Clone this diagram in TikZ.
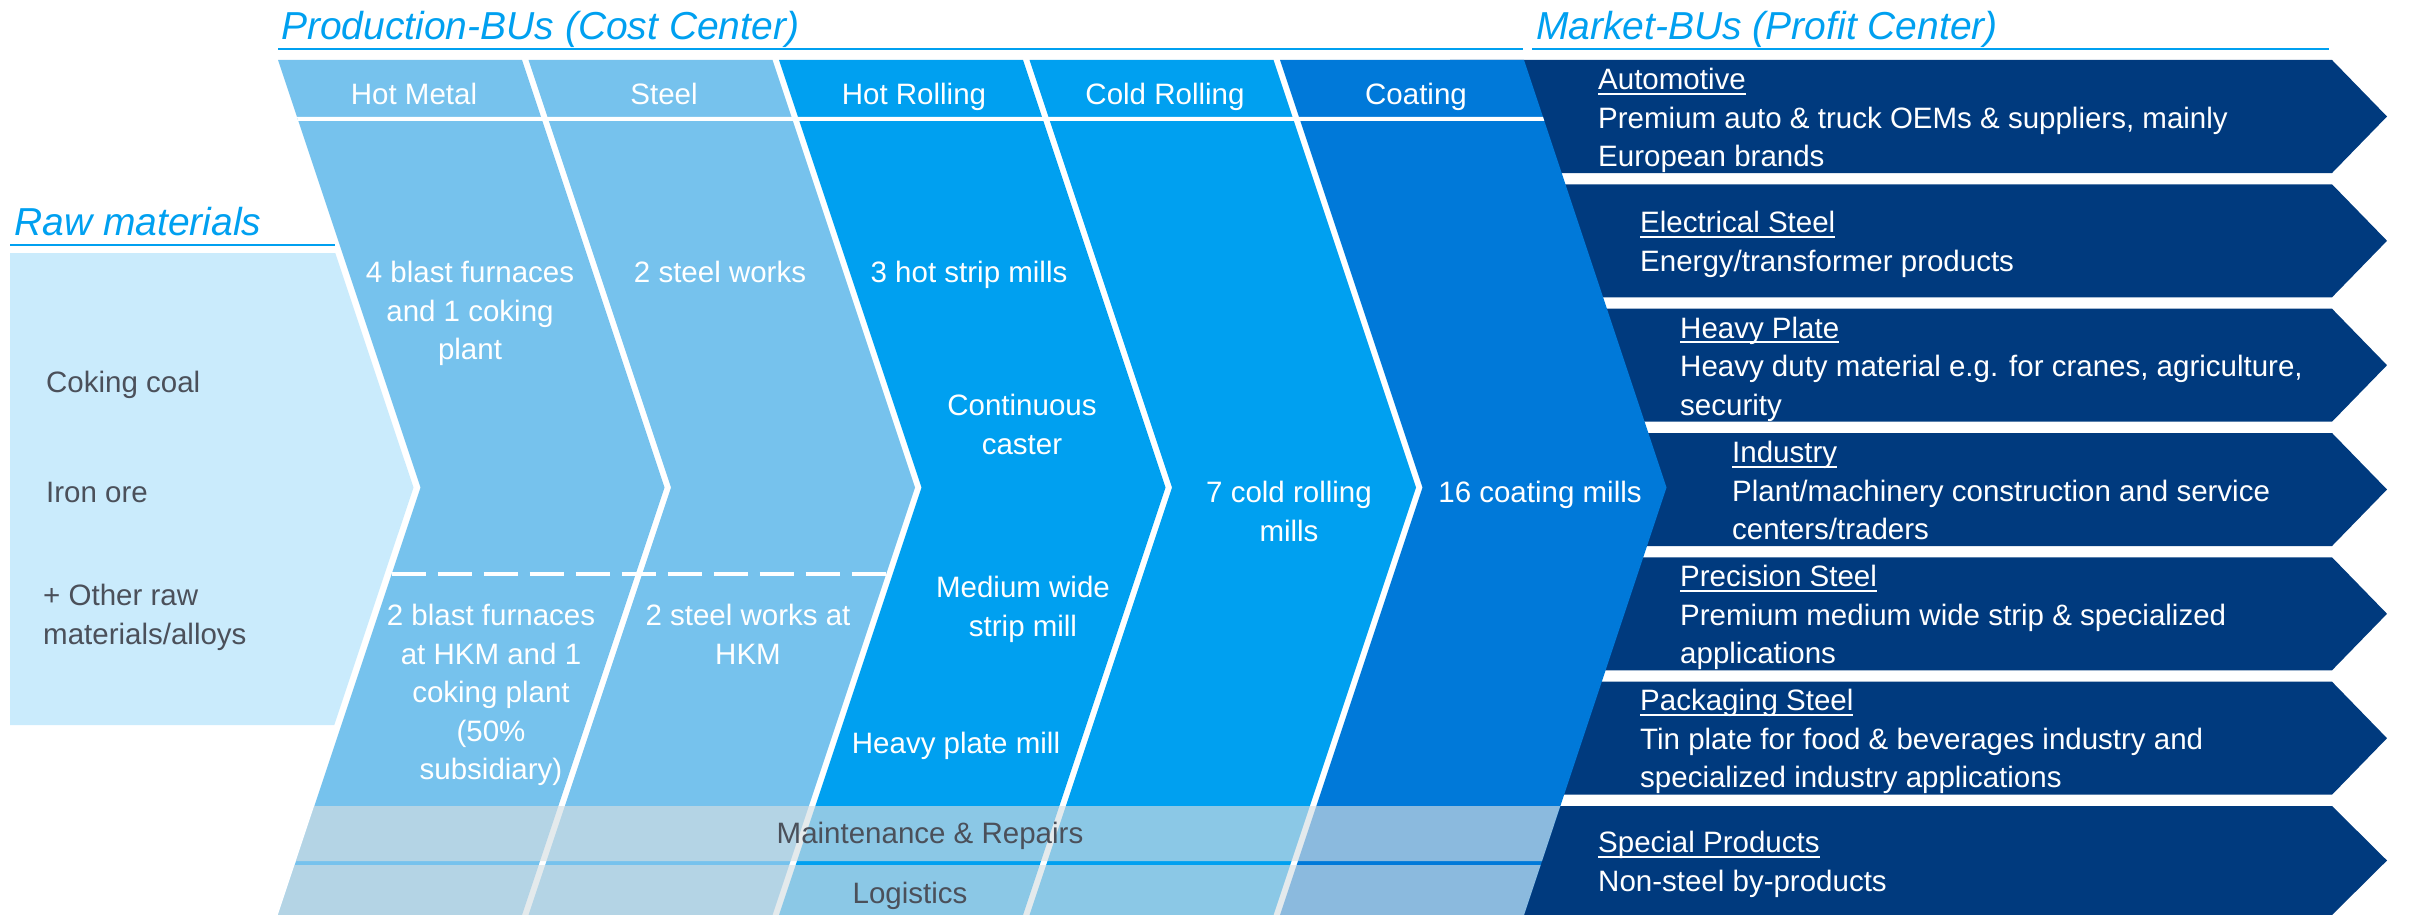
\documentclass[tikz,border=0pt]{standalone}
\usepackage{fontspec}
\setmainfont{Liberation Sans}
\definecolor{rawc}{RGB}{202,235,252}
\definecolor{lightc}{RGB}{118,194,237}
\definecolor{midc}{RGB}{0,160,240}
\definecolor{coatc}{RGB}{0,121,217}
\definecolor{navyc}{RGB}{0,58,126}
\definecolor{titlec}{RGB}{0,160,240}
\definecolor{greyc}{RGB}{75,80,90}
\definecolor{bandc}{RGB}{214,222,226}
% underline at a fixed distance below the baseline
\newcommand{\undl}[1]{\setbox0=\hbox{#1}\rlap{\vrule width\wd0 height -3pt depth 5pt}\box0}
\begin{document}
\begin{tikzpicture}[x=1pt,y=-1pt,
  wt/.style={white, font=\fontsize{29.5}{38.5}\selectfont, inner sep=0pt},
  gt/.style={greyc, font=\fontsize{29.5}{38.5}\selectfont, inner sep=0pt},
  ttl/.style={titlec, font=\fontsize{39}{46}\selectfont\itshape, inner sep=0pt, anchor=base west},
  rule/.style={titlec, line width=2.5pt},
  band/.style={bandc, opacity=0.65},
  market/.style={wt, anchor=north west, align=left},
  body/.style={wt, anchor=north, align=center},
  head/.style={wt, anchor=base}]
\useasboundingbox (0,0) rectangle (2412,915);

% titles and their rules
\node[ttl] (tprod) at (281,40) {Production-BUs (Cost Center)};
\node[ttl] (tmark) at (1536,40) {Market-BUs (Profit Center)};
\node[ttl] (traw) at (14,235) {Raw materials};
\draw[rule] (278,49) -- (1523,49);
\draw[rule] (1532,49) -- (2329,49);
\draw[rule] (10,245) -- (335,245);

% raw materials block
\fill[rawc] (10,253) -- (335.3,253) -- (413.5,487.5) -- (334.3,725) -- (10,725) -- cycle;

% market bars (drawn first, the coating chevron covers their left ends)
\foreach \t in {60,184.3,308.7,433,557.3,681.7} {
  \fill[navyc] (1450,\t) -- (2332,\t) -- (2387,\t+56.5) -- (2332,\t+113) -- (1450,\t+113) -- cycle;
}
\fill[navyc] (1450,806) -- (2332,806) -- (2387,860.5) -- (2332,915) -- (1450,915) -- cycle;

% production chevrons
\foreach \xl/\col in {278/lightc, 528.5/lightc, 779/midc, 1029.5/midc, 1280/coatc} {
  \fill[\col] (\xl,60) -- ++(142.5,427.5) -- ++(-142.5,427.5) -- ++(244,0)
    -- ++(142.5,-427.5) -- ++(-142.5,-427.5) -- cycle;
}
% white line under the header row
\fill[white] (297,117) -- (1543,117) -- (1544.3,121) -- (298.3,121) -- cycle;
% dashed split between main plants and HKM
\draw[white, line width=4pt, dash pattern=on 34pt off 12pt] (391.7,574) -- (892.7,574);

% support bands
\fill[band] (314.3,806) -- (1560.3,806) -- (1542,861) -- (296,861) -- cycle;
\fill[band] (294.7,865) -- (1540.7,865) -- (1524,915) -- (278,915) -- cycle;
\node[gt, anchor=base] (maint) at (930,843) {Maintenance \& Repairs};
\node[gt, anchor=base] (logi) at (910,903) {Logistics};

% headers
\node[head] (hHM) at (414,105) {Hot Metal};
\node[head] (hST) at (664,105) {Steel};
\node[head] (hHR) at (914,105) {Hot Rolling};
\node[head] (hCR) at (1165,105) {Cold Rolling};
\node[head] (hCO) at (1416,105) {Coating};

% chevron contents
\node[body] (bHM) at (470,261) {4 blast furnaces\\and 1 coking\\plant};
\node[body] (bST) at (720,261) {2 steel works};
\node[body] (bHR1) at (969,261) {3 hot strip mills};
\node[body] (bHR2) at (1022,394) {Continuous\\caster};
\node[body] (bHR3) at (1023,576) {Medium wide\\strip mill};
\node[body] (bHR4) at (956,732) {Heavy plate mill};
\node[body] (bCR) at (1289,481) {7 cold rolling\\mills};
\node[body] (bCO) at (1540,481) {16 coating mills};
\node[body] (bHM2) at (491,604) {2 blast furnaces\\at HKM and 1\\coking plant\\(50\%\\subsidiary)};
\node[body] (bST2) at (748,604) {2 steel works at\\HKM};

% raw materials
\node[gt, anchor=base west] (rCoal) at (46,392) {Coking coal};
\node[gt, anchor=base west] (rOre) at (46,502) {Iron ore};
\node[gt, anchor=north west, align=left] (rOther) at (43,584) {+ Other raw\\materials/alloys};

% market business units
\node[market] (mAuto) at (1598,68) {\undl{Automotive}\\Premium auto \& truck OEMs \& suppliers, mainly\\European brands};
\node[market] (mElec) at (1640,211) {\undl{Electrical Steel}\\Energy/transformer products};
\node[market] (mPlate) at (1680,316.5) {\undl{Heavy Plate}\\Heavy duty material e.g. for cranes, agriculture,\\security};
\node[market] (mInd) at (1732,441) {\undl{Industry}\\Plant/machinery construction and service\\centers/traders};
\node[market] (mPrec) at (1680,565) {\undl{Precision Steel}\\Premium medium wide strip \& specialized\\applications};
\node[market] (mPack) at (1640,689) {\undl{Packaging Steel}\\Tin plate for food \& beverages industry and\\specialized industry applications};
\node[market] (mSpec) at (1598,831) {\undl{Special Products}\\Non-steel by-products};
\end{tikzpicture}
\end{document}
